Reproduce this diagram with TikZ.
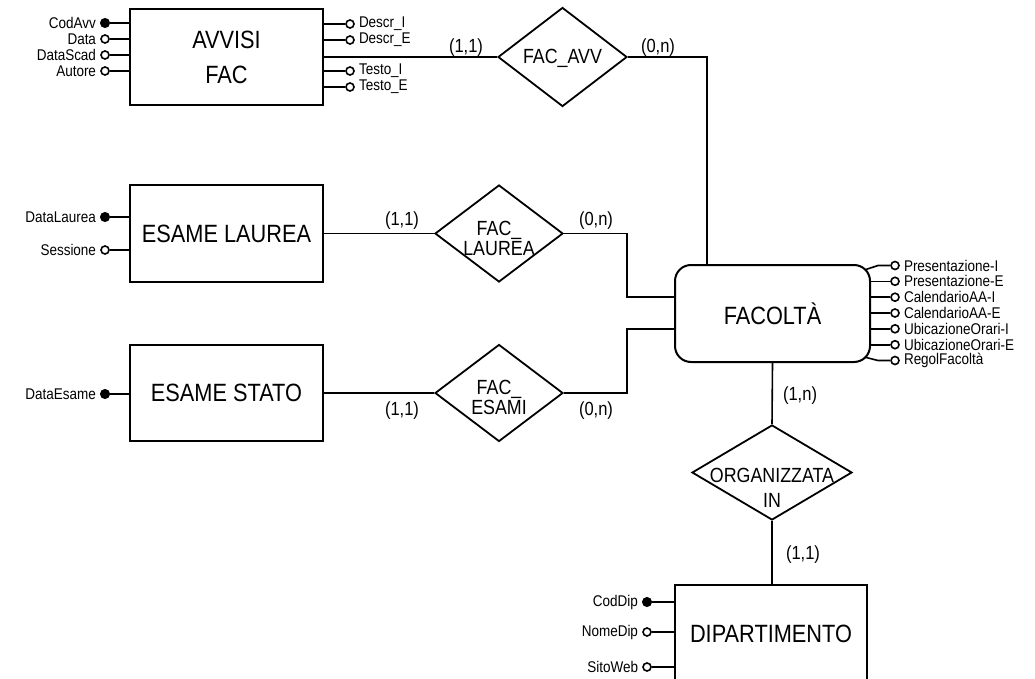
\documentclass[tikz,border=0pt]{standalone}
\usepackage{fontspec}
\setmainfont{Liberation Sans}
\newfontfamily\narrowfont[FakeStretch=0.87]{Liberation Sans}
\usetikzlibrary{shapes.geometric}
\begin{document}
\begin{tikzpicture}[x=1pt,y=-1pt,
  ent/.style={draw,line width=2pt,fill=white,minimum width=193pt,minimum height=96pt,inner sep=0pt,
    font=\narrowfont\fontsize{25}{35}\selectfont,align=center},
  rel/.style={draw,diamond,line width=1.8pt,inner sep=0pt,minimum width=128pt,minimum height=97pt},
  reltxt/.style={font=\narrowfont\fontsize{20.5}{20}\selectfont,align=center,inner sep=0pt},
  conn/.style={line width=1.6pt},
  card/.style={font=\narrowfont\fontsize{19}{19}\selectfont,inner sep=0pt},
  keyatt/.style={circle,fill=black,draw,line width=1pt,minimum size=9pt,inner sep=0pt},
  att/.style={circle,draw,fill=white,line width=1.6pt,minimum size=8pt,inner sep=0pt},
  every label/.append style={font=\narrowfont\fontsize{15.5}{15.5}\selectfont,inner sep=0pt},
  label distance=4pt,
  rlab/.style={label distance=6pt},
]
\useasboundingbox (0,0) rectangle (1035,679);
\clip (0,0) rectangle (1035,679);

% entities
\node[ent] (avv) at (226.5,57) {AVVISI\\FAC};
\node[ent] (lau) at (226.5,233.5) {ESAME LAUREA};
\node[ent] (sta) at (226.5,393) {ESAME STATO};
\node[ent,rounded corners=16pt,minimum width=195pt,minimum height=97pt] (fac) at (772.5,313.5) {FACOLTÀ};
\node[ent,minimum width=192pt,minimum height=98pt] (dip) at (771,634) {DIPARTIMENTO};

% relationships
\node[rel,minimum width=129pt,minimum height=99pt] (ravv) at (562.5,57) {};
\node[rel] (rlau) at (499,233.5) {};
\node[rel] (resa) at (499,393) {};
\node[rel,minimum width=160pt,minimum height=95pt] (rorg) at (772,472.5) {};

\node[reltxt] (tavv) at (562.5,58) {FAC\_AVV};
\node[reltxt] (tlau) at (499,238) {FAC\_\\LAUREA};
\node[reltxt] (tesa) at (499,397) {FAC\_\\ESAMI};
\node[reltxt,font=\narrowfont\fontsize{20.5}{25}\selectfont] (torg) at (772,487.5) {ORGANIZZATA\\IN};

% connectors
\coordinate (c1) at (707,57);
\coordinate (j1) at (627,297);
\coordinate (j2) at (627,329);
\draw[conn] (avv.east) -- (ravv.west);
\draw[conn] (ravv.east) -- (c1) -- (c1 |- fac.north);
\draw[conn] (lau.east) -- (rlau.west);
\draw[conn] (rlau.east) -| (j1) -- (j1 -| fac.west);
\draw[conn] (sta.east) -- (resa.west);
\draw[conn] (resa.east) -| (j2) -- (j2 -| fac.west);
\draw[conn] (fac.south) -- (rorg.north);
\draw[conn] (rorg.south) -- (rorg.south |- dip.north);

% cardinalities
\node[card] (k1) at (466,48) {(1,1)};
\node[card] (k2) at (658,48) {(0,n)};
\node[card] (k3) at (402,221) {(1,1)};
\node[card] (k4) at (596,221) {(0,n)};
\node[card] (k5) at (402,411) {(1,1)};
\node[card] (k6) at (596,411) {(0,n)};
\node[card] (k7) at (800,396) {(1,n)};
\node[card] (k8) at (803,555) {(1,1)};

% AVVISI FAC attributes
\node[keyatt,label=left:CodAvv] (a1) at (105,23) {};
\node[att,label=left:Data] (a2) at (105,39) {};
\node[att,label=left:DataScad] (a3) at (105,55) {};
\node[att,label=left:Autore] (a4) at (105,71) {};
\foreach \n in {a1,a2,a3,a4} \draw[conn] (\n) -- (\n -| avv.west);
\node[att,rlab,label=right:Descr\_I] (b1) at (350,24) {};
\node[att,rlab,label=right:Descr\_E] (b2) at (350,40) {};
\node[att,rlab,label=right:Testo\_I] (b3) at (350,71) {};
\node[att,rlab,label=right:Testo\_E] (b4) at (350,87) {};
\foreach \n in {b1,b2,b3,b4} \draw[conn] (\n) -- (\n -| avv.east);

% ESAME LAUREA / STATO attributes
\node[keyatt,label=left:DataLaurea] (l1) at (105,217) {};
\node[att,label=left:Sessione] (l2) at (105,250) {};
\draw[conn] (l1) -- (l1 -| lau.west);
\draw[conn] (l2) -- (l2 -| lau.west);
\node[keyatt,label=left:DataEsame] (s1) at (105,394) {};
\draw[conn] (s1) -- (s1 -| sta.west);

% DIPARTIMENTO attributes
\node[keyatt,label=left:CodDip] (d1) at (647,602) {};
\node[att,label=left:NomeDip] (d2) at (647,632) {};
\node[att,label=left:SitoWeb] (d3) at (647,667) {};
\foreach \n in {d1,d2,d3} \draw[conn] (\n) -- (\n -| dip.west);

% FACOLTA attributes
\node[att,rlab,label=right:Presentazione-I] (f1) at (895,265.5) {};
\node[att,rlab,label=right:Presentazione-E] (f2) at (895,281.3) {};
\node[att,rlab,label=right:CalendarioAA-I] (f3) at (895,297.2) {};
\node[att,rlab,label=right:CalendarioAA-E] (f4) at (895,313) {};
\node[att,rlab,label=right:UbicazioneOrari-I] (f5) at (895,328.8) {};
\node[att,rlab,label=right:UbicazioneOrari-E] (f6) at (895,344.7) {};
\node[att,rlab,label=right:RegolFacoltà] (f7) at (895,360.5) {};
\coordinate (fc1) at (865.3,269.7);
\coordinate (fc2) at (878,265.5);
\coordinate (fc3) at (865.3,357.3);
\coordinate (fc4) at (878,360.5);
\draw[conn] (fc1) -- (fc2) -- (f1);
\draw[conn] (fc3) -- (fc4) -- (f7);
\foreach \n in {f2,f3,f4,f5,f6} \draw[conn] (\n) -- (\n -| fac.east);
\end{tikzpicture}
\end{document}
